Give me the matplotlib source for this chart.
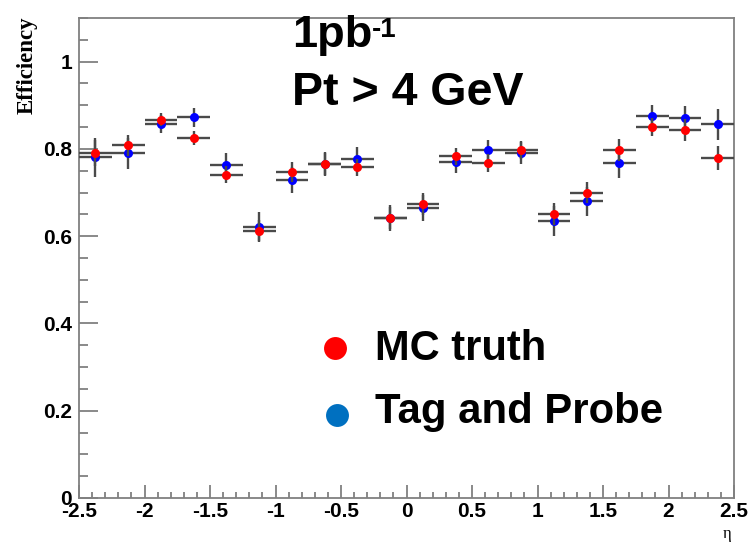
import numpy as np
import matplotlib
matplotlib.use("Agg")
import matplotlib.pyplot as plt
from matplotlib.ticker import MultipleLocator

# eta bins (width 0.25 from -2.5 to 2.5)
eta_edges = np.linspace(-2.5, 2.5, 21)
eta = 0.5 * (eta_edges[:-1] + eta_edges[1:])
eta_halfwidth = 0.125

mc_eff = [0.790, 0.808, 0.867, 0.825, 0.741, 0.611, 0.747, 0.765, 0.758, 0.641,
          0.674, 0.783, 0.768, 0.798, 0.651, 0.700, 0.798, 0.850, 0.844, 0.779]
mc_err = [0.030, 0.025, 0.015, 0.017, 0.020, 0.025, 0.022, 0.025, 0.020, 0.025,
          0.025, 0.020, 0.020, 0.020, 0.025, 0.025, 0.025, 0.020, 0.025, 0.027]
tp_eff = [0.781, 0.790, 0.857, 0.872, 0.764, 0.622, 0.729, 0.765, 0.777, 0.642,
          0.664, 0.769, 0.798, 0.790, 0.635, 0.680, 0.768, 0.875, 0.871, 0.856]
tp_err = [0.045, 0.035, 0.020, 0.022, 0.027, 0.034, 0.030, 0.027, 0.028, 0.030,
          0.030, 0.025, 0.023, 0.025, 0.034, 0.033, 0.035, 0.025, 0.028, 0.036]

xticks = [-2.5, -2, -1.5, -1, -0.5, 0, 0.5, 1, 1.5, 2, 2.5]
xtick_labels = ["-2.5", "-2", "-1.5", "-1", "-0.5", "0", "0.5", "1", "1.5", "2", "2.5"]
yticks = [0, 0.2, 0.4, 0.6, 0.8, 1.0]
ytick_labels = ["0", "0.2", "0.4", "0.6", "0.8", "1"]

plt.rcParams['font.family'] = ['Liberation Sans', 'DejaVu Sans']

fig = plt.figure(figsize=(7.54, 5.42), dpi=100)
ax = fig.add_axes([0.1048, 0.0812, 0.8687, 0.8856])

bar_color = "#4a4a4a"
ax.errorbar(eta, tp_eff, xerr=eta_halfwidth, yerr=tp_err, fmt='o', color='#0000ff',
            ms=6.5, mec='none', ecolor=bar_color, elinewidth=1.7, capsize=0, zorder=3)
ax.errorbar(eta, mc_eff, xerr=eta_halfwidth, yerr=mc_err, fmt='o', color='#ff0000',
            ms=6.5, mec='none', ecolor=bar_color, elinewidth=1.7, capsize=0, zorder=4)

ax.set_xlim(-2.5, 2.5)
ax.set_ylim(0, 1.1)

ax.set_xticks(xticks)
ax.set_xticklabels(xtick_labels)
ax.set_yticks(yticks)
ax.set_yticklabels(ytick_labels)
ax.xaxis.set_minor_locator(MultipleLocator(0.1))
ax.yaxis.set_minor_locator(MultipleLocator(0.05))

ax.tick_params(axis='both', which='both', direction='in', color='#808080', width=1.3,
               top=False, right=False)
ax.tick_params(axis='y', which='major', length=13.5, pad=5, labelsize=15)
ax.tick_params(axis='y', which='minor', length=6.5)
ax.tick_params(axis='x', which='major', length=9.5, pad=3, labelsize=15)
ax.tick_params(axis='x', which='minor', length=4.5)
for lab in ax.get_xticklabels() + ax.get_yticklabels():
    lab.set_fontweight('bold')

for s in ax.spines.values():
    s.set_color('#808080')
    s.set_linewidth(1.3)

ax.set_ylabel("Efficiency", family=['Liberation Serif'], fontsize=16.5, fontweight='bold')
ax.yaxis.set_label_coords(-0.063, 0.901, transform=ax.transAxes)
ax.text(2.45, -0.083, "η", family=['Liberation Serif', 'DejaVu Serif'], fontsize=12,
        ha='center', va='center', clip_on=False)

# annotations
t1 = ax.text(-0.875, 1.034, "1pb", fontsize=32.5, fontweight='bold', va='baseline',
             clip_on=False)
ax.annotate("-1", xy=(1, 0.95), xycoords=t1, fontsize=20, fontweight='bold',
            va='top', ha='left', annotation_clip=False)
ax.text(-0.875, 0.901, "Pt > 4 GeV", fontsize=33.5, fontweight='bold', va='baseline')

ax.plot([-0.546], [0.344], 'o', color='#ff0000', ms=16.5, mec='none', clip_on=False)
ax.plot([-0.53], [0.190], 'o', color='#0070c0', ms=16.5, mec='none', clip_on=False)
ax.text(-0.24, 0.3165, "MC truth", fontsize=30, fontweight='bold', va='baseline')
ax.text(-0.24, 0.172, "Tag and Probe", fontsize=30.2, fontweight='bold', va='baseline')

fig.savefig("out.png", dpi=100)
